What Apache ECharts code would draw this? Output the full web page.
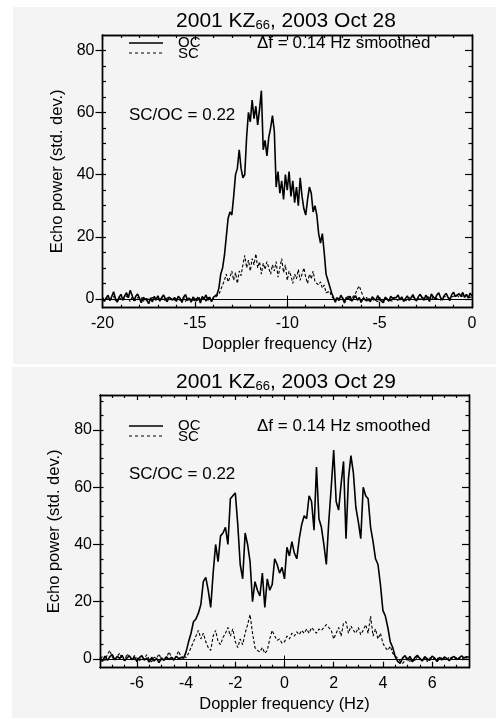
<!DOCTYPE html>
<html>
<head>
<meta charset="utf-8">
<script src="https://cdn.jsdelivr.net/npm/echarts@6/dist/echarts.min.js"></script>
<style>
html, body { margin: 0; padding: 0; background: #fff; }
#chart { width: 496px; height: 720px; }
</style>
</head>
<body>
<div id="chart"></div>
<script>
// ---- data: echo spectra, one value every 0.1 Hz ----
var topStart = -20, topStep = 0.1;   // 2003 Oct 28, -20 .. 0 Hz
var ocTop = [
	0.5, -0.8, 0.3, 1.2, -0.5, 0.8, 2.3, 0.2, -1.0, 0.6,
	1.5, -0.3, 1.0, 2.0, 0.4, 2.8, 1.2, -0.6, 0.9, 1.6,
	0.2, -1.2, 0.5, 1.1, -0.4, -1.5, 0.3, -0.9, 0.8, -0.2,
	1.0, -0.7, 0.4, 1.3, 0.1, -0.9, 0.6, 1.2, -0.3, 0.5,
	-0.8, 0.9, 0.2, -1.1, 0.7, 1.4, -0.5, 0.3, -1.0, 0.6,
	1.1, -0.6, 0.4, -1.3, 0.8, 0.0, 1.3, -0.4, 0.6, -0.9,
	0.5,
	0.8, 1.5, 3.5, 8, 10, 14, 20, 26, 28, 27,
	33, 40, 42, 48, 42, 39, 40, 52, 60, 57,
	64, 58, 62, 56, 61, 67, 48, 51, 46, 52,
	55, 59, 54, 36, 41, 34, 38, 32, 40, 35,
	41, 33, 38, 31, 36, 30, 39, 33, 29, 27,
	32, 36, 34, 28, 30, 27, 21, 18, 21, 15,
	8, 6, 4, 2, 0.5,
	-1.0, 0.4, -0.5, 1.2, 0.2, -1.3, 0.6, -0.2, 0.9, -0.7,
	0.3, 1.0, -0.4, 0.5, -1.1, 0.2, 0.8, -0.6, 0.1, -0.9,
	0.7, 0.3, -0.5, 1.1, -0.2, 0.4, -1.2, 0.6, 0.0, -0.7,
	0.9, 0.2, -0.4, 0.5, 1.3, -0.3, 0.7, -0.8, 0.2, 1.0,
	-0.5, 0.4, 1.4, 0.1, -0.6, 0.8, 1.5, 0.3, -0.4, 1.2,
	0.5, -0.8, 1.6, 0.7, 0.0, 1.3, 2.0, 0.4, -0.3, 1.1,
	1.8, 0.6, -0.5, 1.4, 2.2, 0.8, 0.2, 1.7, 0.9, 2.1,
	0.5, 1.5, 0.3, 1.9, 1.0
];
var scTop = [
	0.2, -0.5, 0.4, 0.8, -0.3, 0.1, 0.9, -0.6, -0.2, 0.5,
	0.7, -0.4, 0.3, 1.0, 0.2, -0.8, 0.6, 0.1, -0.5, 0.4,
	-0.2, 0.6, -0.9, 0.3, 0.8, -0.1, -0.6, 0.5, 0.2, -0.4,
	0.7, -0.3, 0.1, 0.6, -0.7, 0.4, 0.9, -0.2, 0.3, -0.5,
	0.2, 0.8, -0.4, 0.1, 0.5, -0.8, 0.3, 0.7, -0.1, 0.4,
	-0.6, 0.2, 0.9, -0.3, 0.5, 0.1, -0.7, 0.6, 0.3, -0.2,
	0.4,
	0.5, 0.9, 1.5, 3, 4.5, 6, 8, 5.5, 7, 9,
	6, 8.5, 5, 9, 7.5, 11, 14, 10, 12.5, 9,
	13, 11, 14.5, 10, 12, 8, 11.5, 9.5, 12, 10,
	8, 11, 9, 12, 7, 10, 13, 8.5, 11, 6,
	9, 7.5, 5, 8, 6.5, 9.5, 6, 8, 10, 7,
	5, 8, 6.5, 9, 5.5, 6, 4.5, 5.5, 3.5, 4.5,
	2, 1.5, 2.5, 0.8, 0.3,
	-0.4, 0.6, 1.2, -0.3, 0.4, -0.8, 0.2, 0.9, -0.5, 0.3,
	1.0, 1.8, 3.2, 4.2, 2.5, 1.0, -0.2, 0.5, -0.6, 0.3,
	0.7, -0.4, 0.2, -0.8, 0.5, 0.1, -0.6, 0.4, 0.8, -0.3,
	0.2, -0.7, 0.6, 0.1, -0.5, 0.3, 0.9, -0.2, 0.4, -0.6,
	0.5, 0.1, 0.8, -0.4, 0.3, 0.6, -0.1, 0.7, 0.2, -0.3,
	0.9, 0.4, -0.2, 0.6, 1.0, 0.1, 0.5, -0.4, 0.8, 0.3,
	0.7, 1.1, 0.2, 0.6, 0.9, 0.4, 1.2, 0.5, 0.8, 1.0,
	0.6, 1.3, 0.4, 0.9, 0.7
];

var botStart = -7.5, botStep = 0.1;  // 2003 Oct 29, -7.5 .. 7.5 Hz
var ocBot = [
	0.5, -0.8, 1.0, -0.5, 0.8, 1.5, -0.3, 0.9, 0.2, 1.3,
	-0.6, 0.4, 1.1, -0.2, 0.7, -0.9, 0.5, 1.2, -0.4, 0.3,
	-1.1, 0.6, -0.7, 0.2, -1.3, 0.4, -0.5, 0.8, -0.2, 0.6,
	-0.4, 0.9, 0.1, 0.5, 0.3,
	2.5, 6, 9, 13, 14, 16, 19, 27, 28.5, 24,
	18, 30, 40, 34, 43, 44, 46, 40, 56, 57,
	58, 47, 33, 28, 44, 40, 34, 20, 27, 24,
	22, 30, 18, 28, 24, 26, 35, 33, 30, 32,
	28, 39, 36, 41, 37, 35, 42, 47, 50, 49,
	57, 55, 45, 67, 49, 46, 40, 33, 48, 60,
	73, 55, 52, 61, 69, 42, 63, 71, 65, 53,
	48, 42, 60, 57, 56, 46, 41, 35, 33, 26,
	17, 15, 11, 6, 4, 0.8,
	-0.8, -1.5, 0.3, 1.2, -0.4, 0.9, -1.0, 0.5, 1.3, 0.2,
	-0.7, 0.8, 0.1, -0.5, 1.0, 0.4, -0.9, 0.6, -0.3, 0.7,
	0.2, -0.6, 0.5, 0.9, -0.2, 0.4, 1.1, 0.3, 0.8, 0.6
];
var scBot = [
	0.3, 0.8, -0.5, 1.5, 3.0, 0.6, -0.4, 0.9, 2.0, 0.2,
	-0.6, 1.8, 0.5, -0.3, 1.2, 0.4, -0.8, 0.7, 0.1, 1.5,
	-0.2, -1.0, 0.6, 0.3, 1.8, -0.4, 0.5, 0.2, 2.5, 0.8,
	-0.3, 1.0, 2.8, 0.4, 1.2,
	0.5, 2, 4, 6, 8, 10, 7, 9, 6, 4,
	3, 8, 10, 6, 5, 7.5, 9, 11, 8, 10.5,
	6, 4, 7, 5, 9, 12, 15.5, 9, 4, 3,
	2.5, 4, 2, 3, 7, 10, 8, 6.5, 7, 5.5,
	6, 8, 7, 9, 8, 9.5, 8.5, 10, 9, 10.5,
	9, 11, 10, 9, 10.5, 10, 11, 12, 11, 10,
	7, 9, 11, 8, 12.5, 13, 9, 11.5, 10, 9,
	11, 8.5, 10, 12, 9, 15, 8, 10.5, 7, 9,
	5.5, 4, 3, 4.5, 2, 1,
	0.4, -0.8, -1.5, -0.5, 0.6, -1.2, 0.3, -0.6, 0.8, 0.2,
	-0.4, 0.5, -0.9, 0.3, 0.7, -0.2, 0.4, -0.7, 0.6, 0.1,
	-0.5, 0.8, 0.2, -0.3, 0.6, 0.4, -0.6, 0.9, 0.3, 0.5
];

// ---- ticks ----
var xMajorTop = [-20, -15, -10, -5, 0];
var xMinorTop = [-19, -18, -17, -16, -14, -13, -12, -11, -9, -8, -7, -6, -4, -3, -2, -1];
var yMajorTop = [0, 20, 40, 60, 80];
var yMinorTop = [5, 10, 15, 25, 30, 35, 45, 50, 55, 65, 70, 75, 85];
var xMajorBot = [-6, -4, -2, 0, 2, 4, 6];
var xMinorBot = [-7, -6.5, -5.5, -5, -4.5, -3.5, -3, -2.5, -1.5, -1, -0.5,
	0.5, 1, 1.5, 2.5, 3, 3.5, 4.5, 5, 5.5, 6.5, 7];
var yMajorBot = [0, 20, 40, 60, 80];
var yMinorBot = [5, 10, 15, 25, 30, 35, 45, 50, 55, 65, 70, 75, 85, 90];

var titleTop = '2001 KZ{s|66}, 2003 Oct 28';
var titleBot = '2001 KZ{s|66}, 2003 Oct 29';
var noteRes = '\u0394f = 0.14 Hz smoothed';
var noteRatio = 'SC/OC = 0.22';

var FONT = '"Liberation Sans", Arial, Helvetica, sans-serif';

function pairs(start, step, vals) {
	return vals.map(function (v, i) {
		return [+(start + i * step).toFixed(2), v];
	});
}

var axisLine = { onZero: false, lineStyle: { color: '#000', width: 1.4 } };
var tickStyle = { color: '#000', width: 1.2 };
var nameStyle = { color: '#000', fontSize: 16.5, fontFamily: FONT };

function xAxes(gi, min, max, major, minor) {
	function ax(pos, vals, len, withLabel) {
		var a = {
			gridIndex: gi, type: 'value', position: pos, min: min, max: max,
			axisLine: axisLine, splitLine: { show: false },
			axisTick: { inside: true, length: len, customValues: vals, lineStyle: tickStyle },
			axisLabel: { show: false }
		};
		if (withLabel) {
			a.axisLabel = { show: true, customValues: vals, margin: 8, color: '#000', fontSize: 16, fontFamily: FONT };
			a.name = 'Doppler frequency (Hz)';
			a.nameLocation = 'middle';
			a.nameGap = 28;
			a.nameTextStyle = nameStyle;
		}
		return a;
	}
	return [
		ax('bottom', major, 6, true),
		ax('bottom', minor, 3, false),
		ax('top', major, 5, false),
		ax('top', minor, 3, false)
	];
}

function yAxes(gi, min, max, major, minor, gap) {
	function ax(pos, vals, len, inside, withLabel) {
		var a = {
			gridIndex: gi, type: 'value', position: pos, min: min, max: max,
			axisLine: axisLine, splitLine: { show: false },
			axisTick: { inside: inside, length: len, customValues: vals, lineStyle: tickStyle },
			axisLabel: { show: false }
		};
		if (withLabel) {
			a.axisLabel = { show: true, customValues: vals, margin: 8, color: '#000', fontSize: 16, fontFamily: FONT };
			a.name = 'Echo power (std. dev.)';
			a.nameLocation = 'middle';
			a.nameGap = gap;
			a.nameTextStyle = nameStyle;
		}
		return a;
	}
	return [
		ax('left', major, 7, false, true),
		ax('left', minor.concat(major), 3.5, true, false),
		ax('right', major, 7, true, false),
		ax('right', minor, 3.5, true, false)
	];
}

function spectra(gi, start, step, oc, sc, center, ymin, ytick) {
	var base = gi * 4;
	return [
		{
			type: 'line', xAxisIndex: base, yAxisIndex: base, name: 'OC',
			data: pairs(start, step, oc), showSymbol: false, symbol: 'none',
			lineStyle: { color: '#000', width: 1.6 }, z: 3,
			markLine: {
				silent: true, symbol: 'none', animation: false,
				label: { show: false },
				lineStyle: { color: '#000', width: 1, type: 'solid' },
				data: [
					{ yAxis: 0 },
					[{ coord: [center, ymin] }, { coord: [center, ytick] }]
				]
			}
		},
		{
			type: 'line', xAxisIndex: base, yAxisIndex: base, name: 'SC',
			data: pairs(start, step, sc), showSymbol: false, symbol: 'none',
			lineStyle: { color: '#000', width: 1.1, type: [3, 2] }, z: 2
		}
	];
}

function legendBlock(y0, yRatio) {
	var small = '15px ' + FONT;
	var big = '17px ' + FONT;
	return [
		{ type: 'line', shape: { x1: 129, y1: y0, x2: 163, y2: y0 }, style: { stroke: '#000', lineWidth: 1.3 } },
		{ type: 'text', x: 178, y: y0 - 0.5, style: { text: 'OC', font: small, fill: '#000', verticalAlign: 'middle' } },
		{ type: 'line', shape: { x1: 129, y1: y0 + 10, x2: 163, y2: y0 + 10 }, style: { stroke: '#000', lineWidth: 1, lineDash: [3, 3] } },
		{ type: 'text', x: 178, y: y0 + 10.5, style: { text: 'SC', font: small, fill: '#000', verticalAlign: 'middle' } },
		{ type: 'text', x: 257, y: y0, style: { text: noteRes, font: big, fill: '#000', verticalAlign: 'middle' } },
		{ type: 'text', x: 129, y: yRatio, style: { text: noteRatio, font: big, fill: '#000', verticalAlign: 'middle' } }
	];
}

function titleText(y, txt) {
	return {
		type: 'text', x: 286, y: y,
		style: {
			text: txt, fill: '#000', align: 'center', verticalAlign: 'middle',
			font: '21px ' + FONT,
			rich: {
				s: { fontSize: 13, fontFamily: FONT, lineHeight: 12, verticalAlign: 'bottom' }
			}
		}
	};
}

var myChart = echarts.init(document.getElementById('chart'), null, { renderer: 'canvas' });
var option = {
	animation: false,
	backgroundColor: '#fff',
	grid: [
		{ left: 102.5, top: 35, width: 369.5, height: 272.7 },
		{ left: 100, top: 395, width: 369, height: 272.7 }
	],
	xAxis: xAxes(0, -20, 0, xMajorTop, xMinorTop).concat(xAxes(1, -7.5, 7.5, xMajorBot, xMinorBot)),
	yAxis: yAxes(0, -2.8, 84.9, yMajorTop, yMinorTop, 28).concat(yAxes(1, -3.04, 92.2, yMajorBot, yMinorBot, 29)),
	series: spectra(0, topStart, topStep, ocTop, scTop, -10, -2.8, 1.1)
		.concat(spectra(1, botStart, botStep, ocBot, scBot, 0, -3.04, 1.2)),
	graphic: [
		{ type: 'rect', z: -10, shape: { x: 13, y: 7, width: 483, height: 357 }, style: { fill: '#f4f4f4' }, silent: true },
		{ type: 'rect', z: -10, shape: { x: 12, y: 367, width: 484, height: 351 }, style: { fill: '#f4f4f4' }, silent: true },
		titleText(21, titleTop),
		titleText(382, titleBot)
	].concat(legendBlock(43, 115)).concat(legendBlock(426, 474))
};
myChart.setOption(option);
</script>
</body>
</html>
